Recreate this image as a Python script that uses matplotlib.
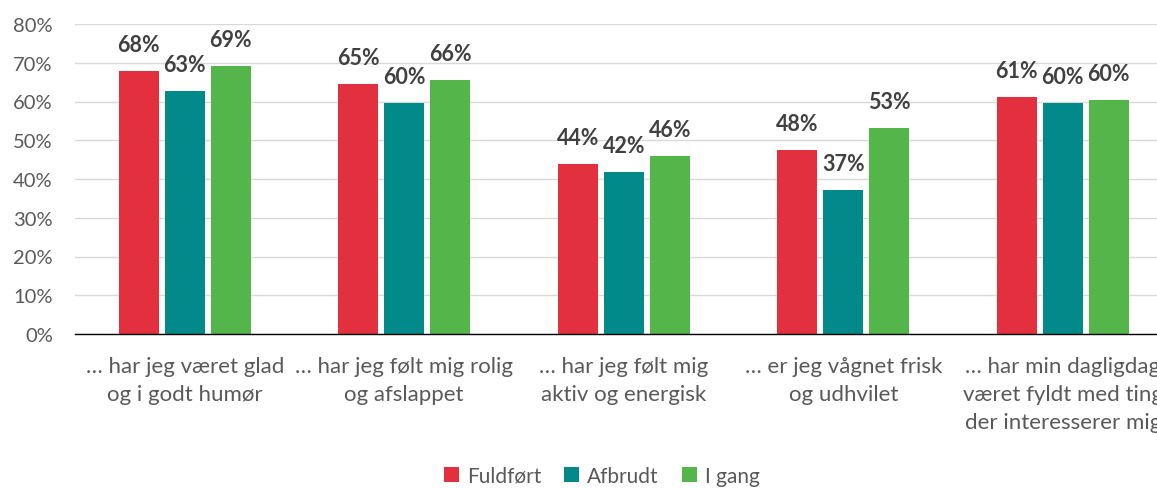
import matplotlib.pyplot as plt
import numpy as np

plt.rcParams['font.family'] = ['Lato', 'DejaVu Sans']

categories = ['… har jeg været glad\nog i godt humør',
              '… har jeg følt mig rolig\nog afslappet',
              '… har jeg følt mig\naktiv og energisk',
              '… er jeg vågnet frisk\nog udhvilet',
              '… har min dagligdag\nværet fyldt med ting\nder interesserer mig']
series = ['Fuldført', 'Afbrudt', 'I gang']
fuldfoert = [67.9, 64.6, 43.9, 47.5, 61.1]
afbrudt = [62.8, 59.6, 41.8, 37.2, 59.6]
i_gang = [69.2, 65.5, 45.9, 53.2, 60.3]
yticks = [0, 10, 20, 30, 40, 50, 60, 70, 80]

colors = ['#E3303F', '#028A8A', '#54B64A']

fig = plt.figure(figsize=(11.57, 4.89), dpi=100)
# plot area runs past the right edge, as in the reference
ax = fig.add_axes([75 / 1157, 154 / 489, 1097.5 / 1157, 310 / 489])

x = np.arange(len(categories))
w = 40 / 219.5
step = 46 / 219.5
for i, (vals, name) in enumerate(zip([fuldfoert, afbrudt, i_gang], series)):
    pos = x + (i - 1) * step
    ax.bar(pos, vals, width=w, color=colors[i], label=name, zorder=2)
    for p, v in zip(pos, vals):
        ax.annotate(f'{v:.0f}%', (p, v), xytext=(0, 19), textcoords='offset points',
                    ha='center', va='center', fontsize=15.5, fontweight='bold',
                    color='#404040')

ax.set_xlim(-0.5, len(categories) - 0.5)
ax.set_ylim(0, 80)
ax.set_yticks(yticks)
ax.set_yticklabels([f'{t}%' for t in yticks])
ax.set_xticks(x)
ax.set_xticklabels(categories, linespacing=1.5)
ax.tick_params(axis='y', length=0, pad=16, labelsize=14.5, labelcolor='#595959')
ax.tick_params(axis='x', length=0, pad=16, labelsize=16, labelcolor='#595959')
ax.grid(axis='y', color='#D9D9D9', linewidth=1, zorder=0)
for s in ['top', 'right', 'left']:
    ax.spines[s].set_visible(False)
ax.spines['bottom'].set_color('#000000')
ax.spines['bottom'].set_linewidth(1)
ax.spines['bottom'].set_zorder(3)

fig.legend(loc='center', bbox_to_anchor=(602 / 1157, 1 - 477 / 489), ncol=3,
           frameon=False, fontsize=15, labelcolor='#595959',
           handlelength=0.7, handleheight=0.7, handletextpad=0.4,
           columnspacing=1.1)

fig.savefig('out.png', dpi=100)
